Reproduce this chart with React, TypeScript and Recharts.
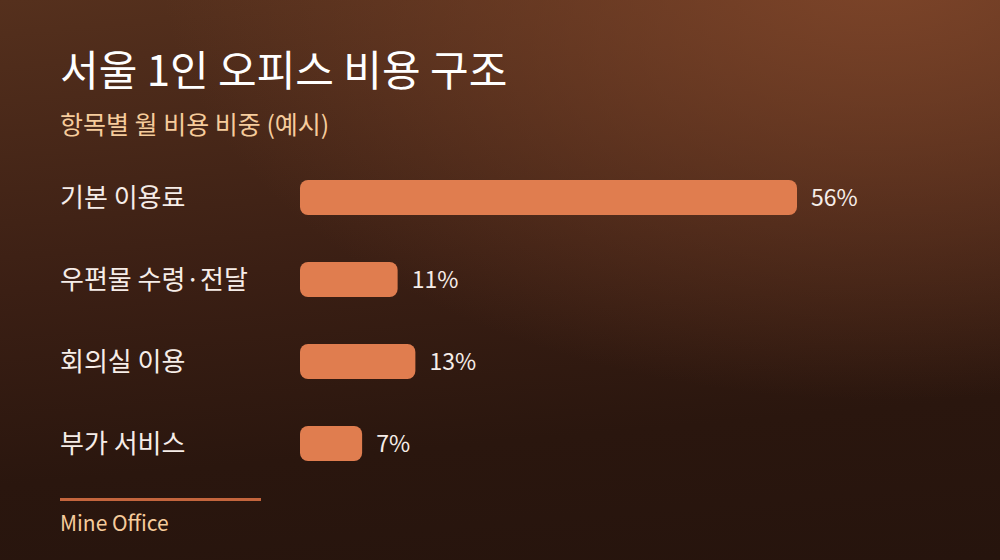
import { BarChart, Bar, XAxis, YAxis, LabelList } from 'recharts';

const categories = ['기본 이용료', '우편물 수령·전달', '회의실 이용', '부가 서비스'];
const shares = [56, 11, 13, 7];

const data = categories.map((name, i) => ({ name, value: shares[i] }));

const KR = '"Noto Sans CJK KR", "Noto Sans", sans-serif';

function CategoryTick({ y, payload }: any) {
  return (
    <text x={60} y={y - 2} textAnchor="start" dominantBaseline="central" fontSize={26} fill="#f6ede8" fontFamily={KR}>
      {payload.value}
    </text>
  );
}

export default function App() {
  return (
    <div
      style={{
        position: 'absolute',
        left: 0,
        top: 0,
        width: 1000,
        height: 560,
        overflow: 'hidden',
        fontFamily: KR,
        background:
          'radial-gradient(ellipse 720px 440px at 880px -40px, rgba(128,70,42,0.95), rgba(128,70,42,0) 100%), linear-gradient(175deg, #55301d 0%, #3b1f14 45%, #2a160e 75%, #26140d 100%)',
      }}
    >
      <div style={{ position: 'absolute', left: 60, top: 39, fontSize: 42, fontWeight: 400, color: '#ffffff', lineHeight: '58px' }}>
        서울 1인 오피스 비용 구조
      </div>
      <div style={{ position: 'absolute', left: 60, top: 107, fontSize: 25, color: '#f6cc9c', lineHeight: '32px' }}>
        항목별 월 비용 비중 (예시)
      </div>
      <div style={{ position: 'absolute', top: 0, left: 0 }}>
        <BarChart
          width={1000}
          height={560}
          data={data}
          layout="vertical"
          margin={{ top: 156, right: 203, bottom: 76, left: 60 }}
        >
          <XAxis type="number" domain={[0, 56]} hide />
          <YAxis type="category" dataKey="name" width={240} axisLine={false} tickLine={false} tick={<CategoryTick />} />
          <Bar dataKey="value" fill="#e07d4f" barSize={35} radius={8} isAnimationActive={false}>
            <LabelList
              dataKey="value"
              position="right"
              offset={14}
              formatter={(v: any) => `${v}%`}
              fill="#f6ede8"
              fontSize={23}
              fontFamily={KR}
            />
          </Bar>
        </BarChart>
      </div>
      <div style={{ position: 'absolute', left: 60, top: 498, width: 201, height: 3, background: '#c4653d' }} />
      <div style={{ position: 'absolute', left: 60, top: 507, fontSize: 21, color: '#f6cc9c', lineHeight: '30px' }}>
        Mine Office
      </div>
    </div>
  );
}
